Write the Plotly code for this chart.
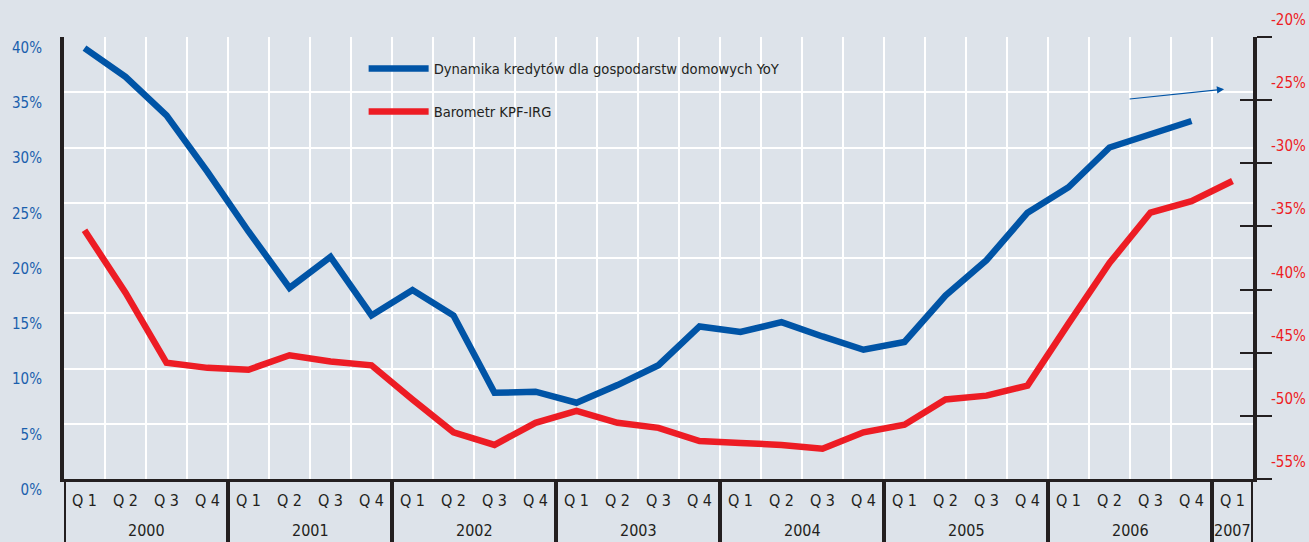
import plotly.graph_objects as go

# ---- data ----
years = ["2000"] * 4 + ["2001"] * 4 + ["2002"] * 4 + ["2003"] * 4 + ["2004"] * 4 + ["2005"] * 4 + ["2006"] * 4 + ["2007"]
quarters = ["Q 1", "Q 2", "Q 3", "Q 4"] * 7 + ["Q 1"]

credit_yoy = [39.0, 36.4, 32.9, 27.8,
              22.4, 17.3, 20.1, 14.8,
              17.1, 14.8, 7.8, 7.9,
              6.9, 8.5, 10.3, 13.8,
              13.3, 14.2, 12.9, 11.7,
              12.4, 16.6, 19.8, 24.1,
              26.4, 30.0, 31.2, 32.4,
              None]

barometer = [-35.3, -40.25, -45.8, -46.2,
             -46.35, -45.2, -45.7, -46.0,
             -48.7, -51.3, -52.3, -50.55,
             -49.6, -50.55, -50.95, -52.0,
             -52.15, -52.3, -52.6, -51.3,
             -50.7, -48.7, -48.4, -47.6,
             -42.7, -37.9, -33.9, -33.0,
             -31.4]

left_ticks = [0, 5, 10, 15, 20, 25, 30, 35, 40]
right_ticks = [-55, -50, -45, -40, -35, -30, -25, -20]

name_blue = "Dynamika kredytów dla gospodarstw domowych YoY"
name_red = "Barometr KPF-IRG"

# ---- style ----
BG = "#dde3ea"
DARK = "#231f20"
BLUE = "#0054a6"
RED = "#ed1c24"
FONT = "Liberation Sans Narrow, DejaVu Sans Condensed, Arial Narrow, sans-serif"

idx = list(range(len(quarters)))
boundaries = [i + 0.5 for i in idx[:-1]]

# year groups: start index, end index
groups = []
for i, yv in enumerate(years):
    if not groups or groups[-1][0] != yv:
        groups.append([yv, i, i])
    else:
        groups[-1][2] = i

fig = go.Figure()
fig.add_trace(go.Scatter(x=idx, y=credit_yoy, name=name_blue, mode="lines",
                         line=dict(color=BLUE, width=6.5), yaxis="y", legendgroup="a"))
fig.add_trace(go.Scatter(x=idx, y=barometer, name=name_red, mode="lines",
                         line=dict(color=RED, width=6.5), yaxis="y2", legendgroup="b"))
# helper trace to carry the inner-tick axis
fig.add_trace(go.Scatter(x=idx, y=barometer, mode="lines", line=dict(color="rgba(0,0,0,0)", width=0),
                         yaxis="y3", showlegend=False, hoverinfo="skip"))

annotations = []
for v in right_ticks:
    annotations.append(dict(xref="paper", yref="y2", x=1, y=v, xanchor="left", yanchor="middle",
                            xshift=16, yshift=17, showarrow=False, text=f"{v}%",
                            font=dict(family=FONT, size=15, color=RED)))
for yv, a, b in groups:
    annotations.append(dict(xref="x", yref="paper", x=(a + b) / 2, y=0, xanchor="center",
                            yanchor="middle", yshift=-51, showarrow=False, text=yv,
                            font=dict(family=FONT, size=16, color=DARK)))
# small arrow at top right
annotations.append(dict(xref="paper", yref="paper", x=0.9757, y=0.882, ax=-96, ay=10,
                        showarrow=True, arrowhead=2, arrowsize=1.2, arrowwidth=1.2,
                        arrowcolor=BLUE, text=""))

shapes = []
div_pos = [a - 0.5 for _, a, _ in groups] + [groups[-1][2] + 0.5]
for xp in div_pos:
    shapes.append(dict(type="line", xref="x", yref="paper", x0=xp, x1=xp, y0=0, y1=-0.15,
                       line=dict(color=DARK, width=4)))

fig.update_layout(
    width=1309, height=542,
    margin=dict(l=60, r=56, t=37, b=63),
    paper_bgcolor=BG, plot_bgcolor=BG,
    font=dict(family=FONT, color=DARK),
    showlegend=True,
    legend=dict(x=0.252, y=0.965, xanchor="left", yanchor="top", bgcolor="rgba(0,0,0,0)",
                font=dict(family=FONT, size=14.6, color=DARK), tracegroupgap=21, itemwidth=60),
    xaxis=dict(range=[-0.5, 28.5], tickvals=idx, ticktext=quarters,
               showgrid=False, zeroline=False,
               minor=dict(tickvals=boundaries, showgrid=True, gridcolor="white", gridwidth=2, ticks=""),
               showline=True, linecolor=DARK, linewidth=3, ticks="",
               ticklabelstandoff=5,
               tickfont=dict(family=FONT, size=16, color=DARK)),
    yaxis=dict(range=[0, 40], tickvals=left_ticks, ticktext=[f"{v}%" for v in left_ticks],
               showgrid=True, gridcolor="white", gridwidth=2, zeroline=False,
               showline=True, linecolor=DARK, linewidth=4, ticks="",
               ticklabelposition="outside bottom", ticklabelstandoff=15,
               tickfont=dict(family=FONT, size=15, color="#1a5fad")),
    yaxis2=dict(range=[-55, -20], tickvals=right_ticks, overlaying="y", side="right",
                showticklabels=False, showgrid=False, zeroline=False,
                showline=True, linecolor=DARK, linewidth=4,
                ticks="outside", ticklen=15, tickwidth=2, tickcolor=DARK),
    yaxis3=dict(range=[-55, -20], tickvals=right_ticks, overlaying="y", side="right",
                showticklabels=False, showgrid=False, zeroline=False, showline=False,
                ticks="inside", ticklen=13, tickwidth=2, tickcolor=DARK),
    annotations=annotations,
    shapes=shapes,
)

fig.write_html("out.html", config={"displayModeBar": False},
               post_script="document.body.style.margin='0';")
